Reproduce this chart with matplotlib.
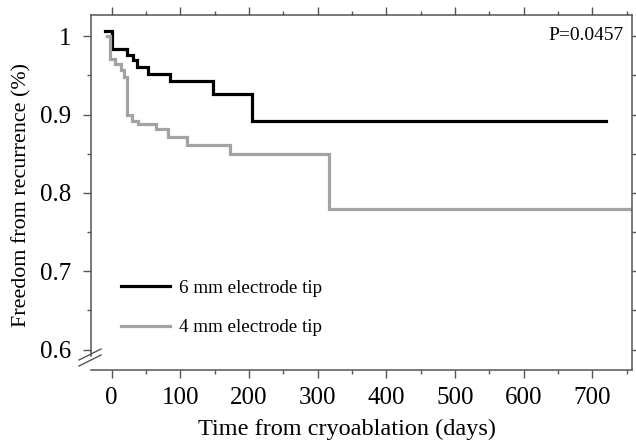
import matplotlib
matplotlib.use("Agg")
import matplotlib.pyplot as plt
from matplotlib.lines import Line2D
from matplotlib.ticker import MultipleLocator, FixedLocator

plt.rcParams['font.family'] = ['Liberation Serif', 'DejaVu Serif']

# 6 mm electrode tip (step function, values at each step start)
t6 = [-10, 1, 22, 31, 37, 53, 85, 148, 204, 720]
s6 = [1.006, 0.983, 0.976, 0.969, 0.961, 0.952, 0.943, 0.926, 0.892, 0.892]

# 4 mm electrode tip
t4 = [-6, -2, 5, 13, 18, 22.5, 29, 39, 65, 82, 110, 172, 317, 758]
s4 = [1.000, 0.971, 0.965, 0.957, 0.948, 0.899, 0.892, 0.888, 0.882, 0.871, 0.861, 0.849, 0.779, 0.779]

labels = ["6 mm electrode tip", "4 mm electrode tip"]
xticks = [0, 100, 200, 300, 400, 500, 600, 700]
yticks = [0.6, 0.7, 0.8, 0.9, 1.0]
yticklabels = ["0.6", "0.7", "0.8", "0.9", "1"]
p_text = "P=0.0457"

W, H = 636, 442
fig = plt.figure(figsize=(W / 100, H / 100), dpi=100)
L, R, T, B = 91, 632, 15, 370
ax = fig.add_axes([L / W, 1 - B / H, (R - L) / W, (B - T) / H])

black = "#000000"
gray = "#a3a3a3"
ax.step(t6, s6, where="post", color=black, lw=2.3, solid_joinstyle="miter")
ax.step(t4, s4, where="post", color=gray, lw=2.3, solid_joinstyle="miter")

ax.set_xlim(-30, 758)
ax.set_ylim(0.574, 1.027)

ax.xaxis.set_major_locator(FixedLocator(xticks))
ax.xaxis.set_minor_locator(MultipleLocator(50))
ax.yaxis.set_major_locator(FixedLocator(yticks))
ax.set_yticklabels(yticklabels)
ax.yaxis.set_minor_locator(MultipleLocator(0.05))

spc = "#555555"
for s in ax.spines.values():
    s.set_color(spc)
    s.set_linewidth(1.1)
ax.spines['left'].set_bounds(0.592, 1.027)

ax.tick_params(which="both", direction="out", top=True, right=True,
               labeltop=False, labelright=False, color=spc, width=1.0)
ax.tick_params(which="major", length=6, labelsize=18)
ax.tick_params(which="minor", length=3)
ax.tick_params(axis="x", which="major", pad=6)
ax.tick_params(axis="y", which="major", pad=8)

ax.set_xlabel("Time from cryoablation (days)", fontsize=17.5, va="center")
ax.set_ylabel("Freedom from recurrence (%)", fontsize=15.8, va="center")
ax.xaxis.set_label_coords((347.5 - L) / (R - L), (B - 429) / (B - T))
ax.yaxis.set_label_coords((22 - L) / (R - L), (B - 195) / (B - T))

# axis break marks
for dy in (0, 6):
    x0, y0, x1, y1 = 79, 366 + dy - 6, 101, 355 + dy - 6
    ax.add_line(Line2D([(x0 - L) / (R - L), (x1 - L) / (R - L)],
                       [(B - y0) / (B - T), (B - y1) / (B - T)],
                       transform=ax.transAxes, color=spc, lw=1.0, clip_on=False))

ax.text((624 - L) / (R - L), (B - 36) / (B - T), p_text, transform=ax.transAxes,
        ha="right", va="center", fontsize=14)

handles = [Line2D([], [], color=black, lw=2.3), Line2D([], [], color=gray, lw=2.3)]
ax.legend(handles, labels, loc="center left", frameon=False, fontsize=13.7,
          bbox_to_anchor=((113 - L) / (R - L), (B - 308) / (B - T)),
          borderaxespad=0, handlelength=2.6, handletextpad=0.45, labelspacing=1.15)

fig.savefig("out.png", dpi=100)
